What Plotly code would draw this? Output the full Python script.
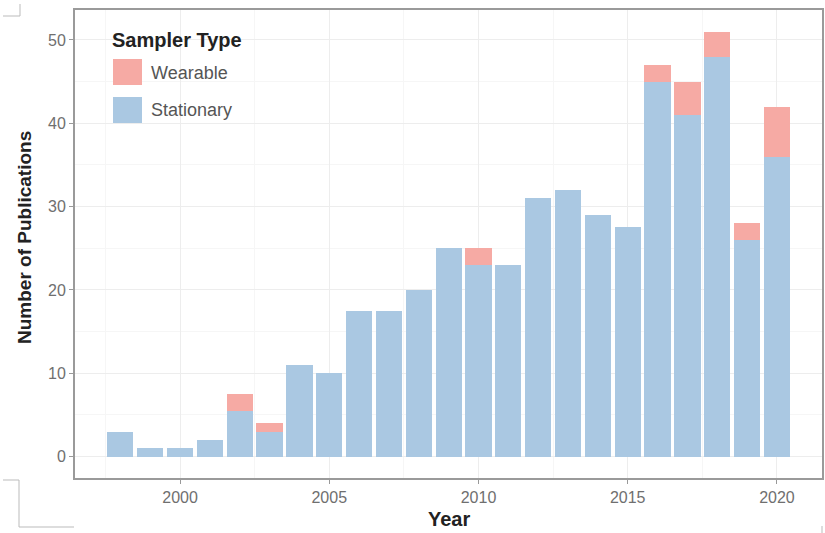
import plotly.graph_objects as go

years = list(range(1998, 2021))
stationary = [3, 1, 1, 2, 5.5, 3, 11, 10, 17.5, 17.5, 20, 25, 23, 23, 31, 32, 29, 27.5, 45, 41, 48, 26, 36]
wearable = [0, 0, 0, 0, 2, 1, 0, 0, 0, 0, 0, 0, 2, 0, 0, 0, 0, 0, 2, 4, 3, 2, 6]
x_ticks = [2000, 2005, 2010, 2015, 2020]
y_ticks = [0, 10, 20, 30, 40, 50]

C_STAT = "#AAC8E2"
C_WEAR = "#F6AAA4"
FONT = "Liberation Sans, Arial, sans-serif"

fig = go.Figure()
fig.add_trace(go.Bar(x=years, y=stationary, name="Stationary", marker_color=C_STAT,
                     marker_line_width=0, width=0.88, showlegend=False))
fig.add_trace(go.Bar(x=years, y=wearable, name="Wearable", marker_color=C_WEAR,
                     marker_line_width=0, width=0.88, showlegend=False))

W, H = 825, 533
L, R, T, B = 75, 3, 10, 55
pw, ph = W - L - R, H - T - B

def px(x):
    return (x - L) / pw

def py(y):
    return 1 - (y - T) / ph

fig.update_layout(
    width=W, height=H, barmode="stack",
    margin=dict(l=L, r=R, t=T, b=B, pad=0, autoexpand=False),
    plot_bgcolor="white", paper_bgcolor="white",
    font=dict(family=FONT, color="#333"),
    xaxis=dict(
        range=[1996.48, 2021.51], tickvals=x_ticks, ticks="outside", ticklen=4,
        tickcolor="#999", tickfont=dict(size=16, color="#6f6f6f"),
        showgrid=True, gridcolor="#EDEDED", gridwidth=1,
        minor=dict(tick0=1997.5, dtick=5, showgrid=True, gridcolor="#F6F6F6", ticks=""),
        showline=True, linecolor="#9a9a9a", linewidth=2, mirror=True, zeroline=False,
        automargin=False,
    ),
    yaxis=dict(
        range=[-2.58, 53.6], tickvals=y_ticks, ticks="outside", ticklen=4,
        tickcolor="#999", tickfont=dict(size=16, color="#6f6f6f"),
        showgrid=True, gridcolor="#EDEDED", gridwidth=1,
        minor=dict(tick0=5, dtick=10, showgrid=True, gridcolor="#F6F6F6", ticks=""),
        showline=True, linecolor="#9a9a9a", linewidth=2, mirror=True, zeroline=False,
        automargin=False,
    ),
)

# axis titles
fig.add_annotation(x=px(449), y=py(519), xref="paper", yref="paper", text="<b>Year</b>",
                   showarrow=False, xanchor="center", yanchor="middle",
                   font=dict(size=20, color="#222", family=FONT))
fig.add_annotation(x=px(24), y=py(238), xref="paper", yref="paper", text="<b>Number of Publications</b>",
                   showarrow=False, xanchor="center", yanchor="middle", textangle=-90,
                   font=dict(size=19, color="#222", family=FONT))

# manual legend (ggplot-style)
fig.add_annotation(x=px(110), y=py(40), xref="paper", yref="paper", text="<b>Sampler Type</b>",
                   showarrow=False, xanchor="left", yanchor="middle",
                   font=dict(size=20, color="#222", family=FONT))
fig.add_shape(type="rect", xref="paper", yref="paper", x0=px(113), x1=px(142), y0=py(59), y1=py(85),
              fillcolor=C_WEAR, line_width=0)
fig.add_shape(type="rect", xref="paper", yref="paper", x0=px(113), x1=px(142), y0=py(97), y1=py(123),
              fillcolor=C_STAT, line_width=0)
fig.add_annotation(x=px(149), y=py(73), xref="paper", yref="paper", text="Wearable",
                   showarrow=False, xanchor="left", yanchor="middle",
                   font=dict(size=18, color="#555", family=FONT))
fig.add_annotation(x=px(149), y=py(110), xref="paper", yref="paper", text="Stationary",
                   showarrow=False, xanchor="left", yanchor="middle",
                   font=dict(size=18, color="#555", family=FONT))

# faint crop marks
mark = dict(color="#bbbbbb", width=1)
for (x0, y0, x1, y1) in [(3, 16, 20, 16), (20, 4, 20, 16), (3, 480, 19, 480), (19, 480, 19, 527),
                         (19, 527, 74, 527), (822, 526, 822, 533)]:
    fig.add_shape(type="line", xref="paper", yref="paper", x0=px(x0), x1=px(x1), y0=py(y0), y1=py(y1),
                  line=mark)

fig.write_html("out.html", config={"displayModeBar": False},
               post_script="document.body.style.margin='0';document.body.style.overflow='hidden';")
